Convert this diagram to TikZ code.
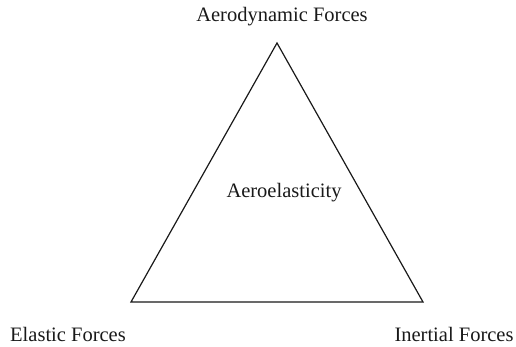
\documentclass[tikz,border=0pt]{standalone}
\usepackage{fontspec}
\setmainfont{Liberation Serif}
\usepackage{tikz}
\usetikzlibrary{positioning}
\definecolor{ink}{RGB}{25,25,25}

\begin{document}
\begin{tikzpicture}[x=1pt, y=-1pt,
    lbl/.style={anchor=base, inner sep=0pt, text=ink,
                font=\fontsize{20.5}{24}\selectfont},
    edge/.style={draw=ink, line width=1.2pt, line join=miter}
]
\useasboundingbox (0,0) rectangle (516,347);
\coordinate (top) at (277,43);
\coordinate (left) at (131,302);
\coordinate (right) at (423,302);
\draw[edge] (top) -- (left) -- (right) -- cycle;
\node[lbl] (aero) at (282,22) {Aerodynamic Forces};
\node[lbl] (core) at (284,198) {Aeroelasticity};
\node[lbl] (elas) at (68,341.5) {Elastic Forces};
\node[lbl] (iner) at (454,341.5) {Inertial Forces};
\end{tikzpicture}
\end{document}
